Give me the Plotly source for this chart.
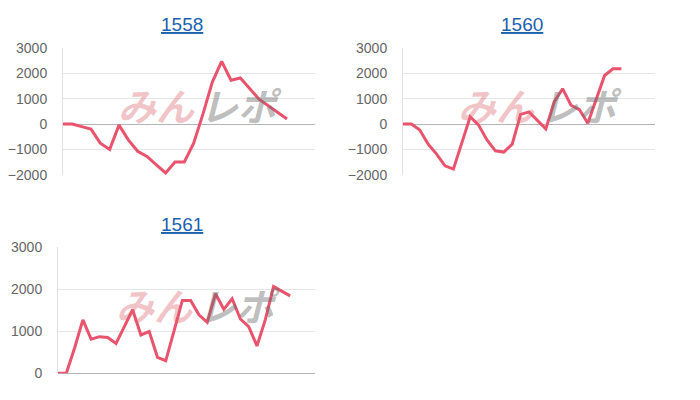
import plotly.graph_objects as go

# ---- data ----
titles = ["1558", "1560", "1561"]
days_1558 = list(range(1, 29))
days_1560 = list(range(1, 32))
days_1561 = list(range(1, 33))
values_1558 = [0, 0, -100, -200, -750, -1000, -40, -620, -1070, -1270, -1600, -1920,
               -1490, -1490, -750, 400, 1650, 2460, 1720, 1810, 1400, 980, 720, 460, 200]
values_1560 = [0, 0, -230, -790, -1180, -1640, -1770, -740, 290, -40, -620, -1050,
               -1100, -790, 380, 480, 160, -190, 870, 1390, 740, 570, 30, 970, 1910,
               2170, 2170]
values_1561 = [0, 0, 600, 1270, 810, 870, 850, 710, 1110, 1510, 910, 990, 380, 300,
               1010, 1730, 1730, 1390, 1210, 1890, 1520, 1770, 1290, 1110, 650, 1270,
               2060, 1940, 1840]
yticks_a = [-2000, -1000, 0, 1000, 2000, 3000]
yticks_b = [0, 1000, 2000, 3000]

W, H = 700, 400
OX, OY = 8, 8  # page body margin offset
def px(x):
    return (x - OX) / W
def py(y):
    return 1 - (y - OY) / H

LINE = "#e9536d"
fig = go.Figure()

panels = [
    (days_1558, values_1558, (63, 315), (47.7, 175), [-2000, 3000], yticks_a, 182, 25, 200, 104),
    (days_1560, values_1560, (403, 655), (47.7, 175), [-2000, 3000], yticks_a, 522, 25, 540, 104),
    (days_1561, values_1561, (58, 315), (247, 373.3), [0, 3000], yticks_b, 182, 224, 198, 304),
]

annotations = []
for i, (days, vals, xd, yd, yr, yt, tx, ty, lx, ly) in enumerate(panels):
    n = i + 1
    xa = "x" if n == 1 else f"x{n}"
    ya = "y" if n == 1 else f"y{n}"
    fig.add_trace(go.Scatter(
        x=days[:len(vals)], y=vals, mode="lines",
        line=dict(color=LINE, width=3), xaxis=xa, yaxis=ya,
        hoverinfo="skip", showlegend=False))
    xkey = "xaxis" if n == 1 else f"xaxis{n}"
    ykey = "yaxis" if n == 1 else f"yaxis{n}"
    fig.update_layout(**{
        xkey: dict(domain=[px(xd[0]), px(xd[1])], range=[days[0], days[-1]],
                   showgrid=False, zeroline=False, showticklabels=False,
                   showline=False, anchor=ya, fixedrange=True, automargin=False),
        ykey: dict(domain=[py(yd[1]), py(yd[0])], range=yr, tickvals=yt,
                   showgrid=True, gridcolor="#e6e6e6", gridwidth=1,
                   zeroline=True, zerolinecolor="#b5b5b5", zerolinewidth=1,
                   showline=True, linecolor="#e0e0e0", linewidth=1,
                   tickfont=dict(family="Liberation Sans, Arial", size=14, color="#666666"),
                   ticklabelstandoff=12, anchor=xa, fixedrange=True, automargin=False),
    })
    annotations.append(dict(
        text="<u>" + titles[i] + "</u>", x=px(tx), y=py(ty), xref="paper", yref="paper",
        showarrow=False, xanchor="center", yanchor="middle",
        font=dict(family="Liberation Sans, Arial", size=19, color="#1a62ad")))
    annotations.append(dict(
        text="みん", x=px(lx - 44), y=py(ly), xref="paper", yref="paper",
        showarrow=False, xanchor="center", yanchor="middle",
        font=dict(family="Noto Sans CJK JP", size=38, color="rgba(220,100,110,0.38)",
                  weight="bold", style="italic")))
    annotations.append(dict(
        text="レポ", x=px(lx + 41), y=py(ly), xref="paper", yref="paper",
        showarrow=False, xanchor="center", yanchor="middle",
        font=dict(family="Noto Sans CJK JP", size=38, color="rgba(110,110,110,0.45)",
                  weight="bold", style="italic")))

fig.update_layout(
    template="none",
    width=W, height=H, margin=dict(l=0, r=0, t=0, b=0, pad=0),
    paper_bgcolor="white", plot_bgcolor="white",
    annotations=annotations, showlegend=False)

fig.write_html("out.html")
